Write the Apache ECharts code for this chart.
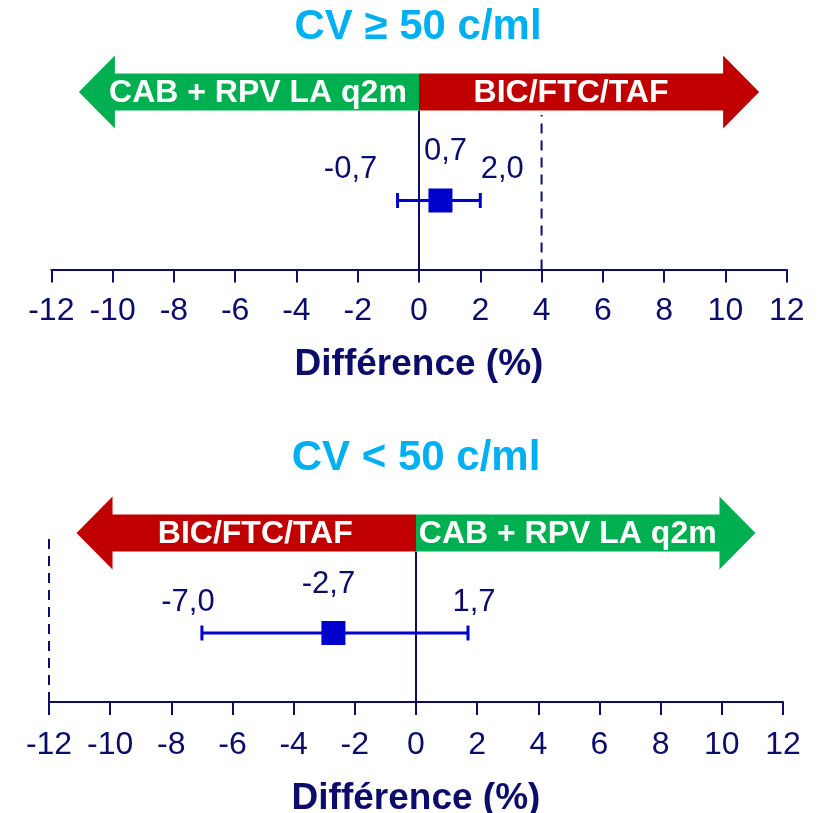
<!DOCTYPE html>
<html>
<head>
<meta charset="utf-8">
<title>Différence (%)</title>
<script src="https://cdn.jsdelivr.net/npm/echarts@6/dist/echarts.min.js"></script>
<style>
  html, body { margin: 0; padding: 0; background: #ffffff; }
  #chart { width: 835px; height: 813px; }
</style>
</head>
<body>
<div id="chart"></div>
<script>
// ---- data ----
const xTicks = [-12, -10, -8, -6, -4, -2, 0, 2, 4, 6, 8, 10, 12];
const panelTitles = ['CV \u2265 50 c/ml', 'CV < 50 c/ml'];
const leftArm = ['CAB + RPV LA q2m', 'BIC/FTC/TAF'];
const rightArm = ['BIC/FTC/TAF', 'CAB + RPV LA q2m'];
const estimate = [0.7, -2.7];
const ciLow = [-0.7, -7.0];
const ciHigh = [2.0, 1.7];
const marginLine = [4, -12];
const axisTitle = 'Différence (%)';

// ---- styling / layout ----
const FONT = "'Liberation Sans', Arial, Helvetica, sans-serif";
const NAVY = '#0c0c6a';
const BLUE = '#0000cc';
const GREEN = '#00b050';
const RED = '#c00000';
const TITLE_BLUE = '#00b0f0';
const ARROW_TIP = 11.1;          // arrow reach on the axis scale
const leftArmColor = [GREEN, RED];
const rightArmColor = [RED, GREEN];
// per-panel geometry: y values are pixels above the axis line
const panels = [
  { top: 40, axisY: 269.5, left: 51.3, right: 48.3, titleX: 418, titleY: 27, arrowY: 177.5, dashTop: 154.5, pointY: 69, nameGap: 77, labelMargin: 26 },
  { top: 480, axisY: 702, left: 49, right: 52, titleX: 416, titleY: 458, arrowY: 169, dashTop: 169, pointY: 69, nameGap: 78, labelMargin: 27 }
];
// horizontal nudges (px) for the CI value labels: [low, estimate, high]
const labelShift = [[-47, 5, 22], [-14, -5, 6]];

const fmt = v => v.toFixed(1).replace('.', ',');

const chart = echarts.init(document.getElementById('chart'), null, { renderer: 'canvas' });

const grids = [], xAxes = [], yAxes = [], series = [], graphics = [];

panels.forEach((p, i) => {
  const h = p.axisY - p.top;
  grids.push({ left: p.left, right: p.right, top: p.top, height: h, containLabel: false, outerBoundsMode: 'none' });
  xAxes.push({
    type: 'value', gridIndex: i,
    min: xTicks[0], max: xTicks[xTicks.length - 1], interval: xTicks[1] - xTicks[0],
    axisLine: { show: true, onZero: false, lineStyle: { color: NAVY, width: 2 } },
    axisTick: { show: true, inside: false, length: 13, lineStyle: { color: NAVY, width: 2 } },
    axisLabel: { color: NAVY, fontSize: 32, fontFamily: FONT, margin: p.labelMargin, showMinLabel: true, showMaxLabel: true },
    splitLine: { show: false },
    name: axisTitle, nameLocation: 'middle', nameGap: p.nameGap,
    nameTextStyle: { color: NAVY, fontSize: 37, fontWeight: 'bold', fontFamily: FONT }
  });
  yAxes.push({ type: 'value', gridIndex: i, min: 0, max: h, show: false, splitLine: { show: false } });

  graphics.push({
    type: 'text', x: p.titleX, y: p.titleY,
    style: { text: panelTitles[i], fill: TITLE_BLUE, fontSize: 42, fontWeight: 'bold', fontFamily: FONT, align: 'center', verticalAlign: 'middle' }
  });

  // zero reference line and dashed margin line
  series.push({
    type: 'custom', xAxisIndex: i, yAxisIndex: i, silent: true, z: 1,
    data: [[0, p.arrowY - 18.5, 0], [marginLine[i], p.dashTop, 1]],
    renderItem: (params, api) => {
      const a = api.coord([api.value(0), 0]);
      const b = api.coord([api.value(0), api.value(1)]);
      const dashed = api.value(2) === 1;
      return {
        type: 'line',
        shape: { x1: a[0], y1: a[1], x2: b[0], y2: b[1] },
        style: { stroke: NAVY, lineWidth: 2, lineDash: dashed ? [10, 7] : null }
      };
    }
  });

  // treatment arrows
  series.push({
    type: 'custom', xAxisIndex: i, yAxisIndex: i, silent: true, z: 2,
    data: [[-ARROW_TIP, p.arrowY, 0], [ARROW_TIP, p.arrowY, 1]],
    renderItem: (params, api) => {
      const side = api.value(2);
      const base = api.coord([0, api.value(1)]);
      const tip = api.coord([api.value(0), api.value(1)]);
      const dir = side === 1 ? 1 : -1;
      const y = base[1];
      const headBase = tip[0] - dir * 36;
      const bodyH = 18.5, headH = 36.5;
      const pts = [
        [base[0], y - bodyH], [headBase, y - bodyH], [headBase, y - headH],
        [tip[0], y], [headBase, y + headH], [headBase, y + bodyH], [base[0], y + bodyH]
      ];
      const color = side === 1 ? rightArmColor[i] : leftArmColor[i];
      const label = side === 1 ? rightArm[i] : leftArm[i];
      const cx = (base[0] + headBase) / 2 + (side === 1 ? 0 : -9);
      return {
        type: 'group',
        children: [
          { type: 'polygon', shape: { points: pts }, style: { fill: color } },
          { type: 'text', x: cx, y: y + 1,
            style: { text: label, fill: '#ffffff', fontSize: 32, fontWeight: 'bold', fontFamily: FONT, align: 'center', verticalAlign: 'middle' } }
        ]
      };
    }
  });

  // point estimate with confidence interval
  series.push({
    type: 'custom', xAxisIndex: i, yAxisIndex: i, silent: true, z: 3,
    data: [[estimate[i], ciLow[i], ciHigh[i], p.pointY]],
    renderItem: (params, api) => {
      const e = api.coord([api.value(0), api.value(3)]);
      const lo = api.coord([api.value(1), api.value(3)]);
      const hi = api.coord([api.value(2), api.value(3)]);
      const y = e[1];
      const sh = labelShift[i];
      const txt = (t, x, yy) => ({
        type: 'text', x: x, y: yy,
        style: { text: t, fill: NAVY, fontSize: 31, fontFamily: FONT, align: 'center', verticalAlign: 'middle' }
      });
      return {
        type: 'group',
        children: [
          { type: 'line', shape: { x1: lo[0], y1: y, x2: hi[0], y2: y }, style: { stroke: BLUE, lineWidth: 3 } },
          { type: 'line', shape: { x1: lo[0], y1: y - 7.5, x2: lo[0], y2: y + 7.5 }, style: { stroke: BLUE, lineWidth: 3 } },
          { type: 'line', shape: { x1: hi[0], y1: y - 7.5, x2: hi[0], y2: y + 7.5 }, style: { stroke: BLUE, lineWidth: 3 } },
          { type: 'rect', shape: { x: e[0] - 12, y: y - 12, width: 24, height: 24 }, style: { fill: BLUE } },
          txt(fmt(api.value(1)), lo[0] + sh[0], y - 31),
          txt(fmt(api.value(0)), e[0] + sh[1], y - 49),
          txt(fmt(api.value(2)), hi[0] + sh[2], y - 31)
        ]
      };
    }
  });
});

chart.setOption({
  animation: false,
  backgroundColor: '#ffffff',
  grid: grids,
  xAxis: xAxes,
  yAxis: yAxes,
  series: series,
  graphic: graphics
});
</script>
</body>
</html>
